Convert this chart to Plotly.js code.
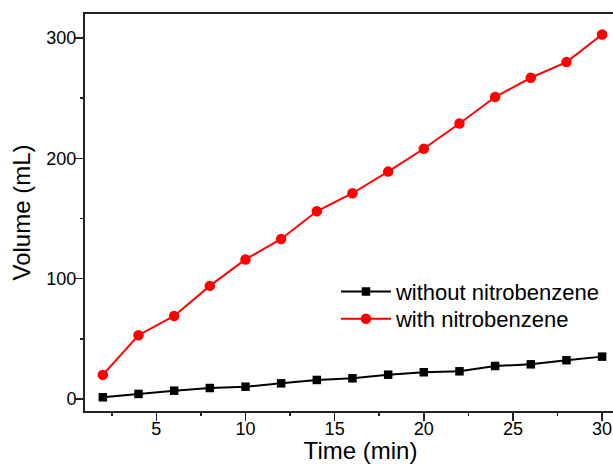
<!DOCTYPE html>
<html>
<head>
<meta charset="utf-8">
<script src="https://cdn.plot.ly/plotly-3.0.1.min.js"></script>
<style>html,body{margin:0;padding:0;overflow:hidden;background:#fff;width:613px;height:464px}#chart{width:636px;height:464px}</style>
</head>
<body>
<div id="chart"></div>
<script>
var timeMin = [2, 4, 6, 8, 10, 12, 14, 16, 18, 20, 22, 24, 26, 28, 30];
var withoutNitro = [1.4, 4.2, 6.9, 9.1, 10.2, 13.0, 15.8, 17.2, 20.2, 22.2, 23.0, 27.4, 28.8, 32.2, 35.2];
var withNitro = [20, 53, 69, 94, 116, 133, 156, 171, 189, 208, 229, 251, 267, 280, 303];
var seriesNames = ["without nitrobenzene", "with nitrobenzene"];
var xRange = [1, 31.9];
var yRange = [-10, 320];

var font = "Liberation Sans, Arial, sans-serif";
var traces = [
  {x: timeMin, y: withoutNitro, name: seriesNames[0], mode: "lines+markers", legend: "legend",
   line: {color: "#000000", width: 2}, marker: {symbol: "square", size: 8.5, color: "#000000"}},
  {x: timeMin, y: withNitro, name: seriesNames[1], mode: "lines+markers", legend: "legend2",
   line: {color: "#ff0000", width: 2}, marker: {symbol: "circle", size: 10.5, color: "#ff0000"}},
  {x: [], y: [], xaxis: "x2", yaxis: "y2", showlegend: false, hoverinfo: "skip", mode: "markers"}
];
var tickFont = {family: font, size: 18, color: "#000000"};
var titleFont = {family: font, size: 24, color: "#000000"};
var legendFont = {family: font, size: 22, color: "#000000"};
var tickAxis = {
  showgrid: false, zeroline: false, showline: false, showticklabels: false,
  ticks: "outside", ticklen: 9, tickwidth: 1.5, tickcolor: "#222222"
};
var layout = {
  width: 636, height: 464,
  margin: {l: 85, r: 0, t: 14, b: 53},
  paper_bgcolor: "#ffffff", plot_bgcolor: "#ffffff",
  showlegend: true,
  legend: {x: 0.4555, y: 0.3534, xanchor: "left", yanchor: "top", bgcolor: "rgba(0,0,0,0)",
           itemwidth: 50, font: legendFont},
  legend2: {x: 0.4555, y: 0.2846, xanchor: "left", yanchor: "top", bgcolor: "rgba(0,0,0,0)",
            itemwidth: 50, font: legendFont},
  xaxis: {
    range: xRange, tick0: 0, dtick: 5, showgrid: false, zeroline: false,
    showline: true, mirror: true, linecolor: "#222222", linewidth: 2,
    ticks: "", tickfont: tickFont, ticklabelstandoff: 0,
    title: {text: "Time (min)", font: titleFont, standoff: 4}
  },
  yaxis: {
    range: yRange, tick0: 0, dtick: 100, showgrid: false, zeroline: false,
    showline: true, mirror: false, linecolor: "#222222", linewidth: 2,
    ticks: "", tickfont: tickFont, ticklabelstandoff: 3,
    title: {text: "Volume (mL)", font: titleFont, standoff: 9}
  },
  xaxis2: Object.assign({}, tickAxis, {
    overlaying: "x", anchor: "y", side: "bottom", range: xRange, tick0: 0, dtick: 5,
    minor: {dtick: 2.5, tick0: 0, ticklen: 4, ticks: "outside", tickcolor: "#222222", tickwidth: 1.5}
  }),
  yaxis2: Object.assign({}, tickAxis, {
    overlaying: "y", anchor: "x", side: "left", range: yRange, tick0: 0, dtick: 100,
    minor: {dtick: 50, tick0: 0, ticklen: 4, ticks: "outside", tickcolor: "#222222", tickwidth: 1.5}
  })
};
Plotly.newPlot("chart", traces, layout, {displayModeBar: false, staticPlot: true});
</script>
</body>
</html>
